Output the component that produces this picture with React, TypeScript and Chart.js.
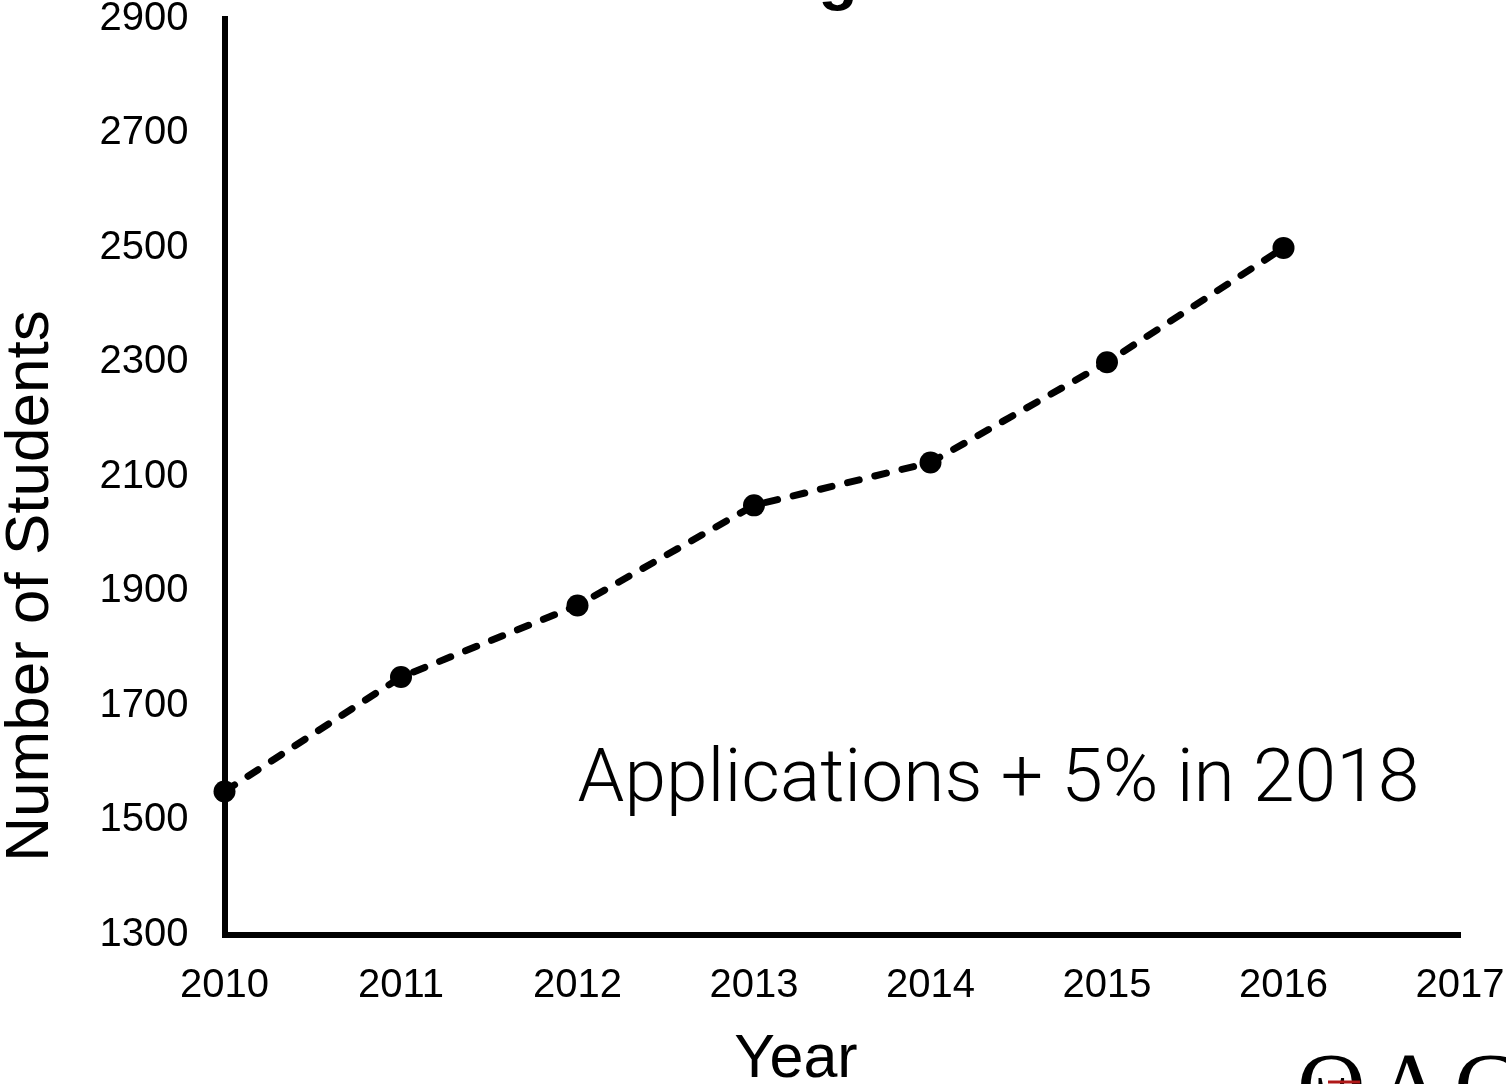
import React, { useEffect, useRef } from "react";
import { Chart, registerables } from "chart.js";

Chart.register(...registerables);

// ---- data ----
const YEARS = [2010, 2011, 2012, 2013, 2014, 2015, 2016];
const STUDENTS = [1550, 1750, 1875, 2050, 2125, 2300, 2500];
const X_MIN = 2010;
const X_MAX = 2017;
const Y_MIN = 1300;
const Y_MAX = 2900;
const Y_STEP = 200;
const TITLE = "The Rising Enrollment";
const X_TITLE = "Year";
const Y_TITLE = "Number of Students";
const NOTE = "Applications + 5% in 2018";
const NOTE_X = 2012;
const NOTE_Y = 1533;
const LOGO = "ΘAC";

// ---- layout ----
const W = 1506;
const H = 1164;
const OY = 80; // canvas shifted up so the title sits above the viewport
const SANS = '"Liberation Sans", Arial, Helvetica, sans-serif';

export default function App() {
  const ref = useRef<HTMLCanvasElement | null>(null);

  useEffect(() => {
    document.body.style.overflow = "hidden";
    const canvas = ref.current;
    if (!canvas) return;

    const textPlugin = {
      id: "extraText",
      afterDraw(chart: any) {
        const ctx = chart.ctx as CanvasRenderingContext2D;
        const xs = chart.scales.x;
        const ys = chart.scales.y;
        ctx.save();
        ctx.fillStyle = "#000";

        // title (mostly cut off at top)
        ctx.font = `bold 64px ${SANS}`;
        ctx.textAlign = "center";
        ctx.textBaseline = "alphabetic";
        ctx.fillText(TITLE, 870, OY - 2);

        // y axis title
        ctx.save();
        ctx.translate(31, OY + 586);
        ctx.rotate(-Math.PI / 2);
        ctx.font = `62px ${SANS}`;
        ctx.textAlign = "center";
        ctx.textBaseline = "middle";
        ctx.fillText(Y_TITLE, 0, 0);
        ctx.restore();

        // x axis title
        ctx.font = `61px ${SANS}`;
        ctx.textAlign = "center";
        ctx.textBaseline = "alphabetic";
        ctx.fillText(X_TITLE, 796, OY + 1077);

        // annotation
        ctx.font = `300 75px Roboto, "Liberation Sans", sans-serif`;
        ctx.textAlign = "left";
        ctx.textBaseline = "alphabetic";
        ctx.fillText(NOTE, xs.getPixelForValue(NOTE_X), ys.getPixelForValue(NOTE_Y));

        // logo (cut off at bottom right)
        ctx.font = `95px "Liberation Serif", "DejaVu Serif", serif`;
        (ctx as any).letterSpacing = "10px";
        ctx.textAlign = "left";
        ctx.fillText(LOGO, 1297, OY + 1119);
        (ctx as any).letterSpacing = "0px";
        ctx.strokeStyle = "#b01818";
        ctx.lineWidth = 3;
        ctx.beginPath();
        ctx.moveTo(1328, OY + 1082);
        ctx.lineTo(1360, OY + 1082);
        ctx.stroke();

        ctx.restore();
      },
    };

    const chart = new Chart(canvas, {
      type: "line",
      data: {
        datasets: [
          {
            data: YEARS.map((x, i) => ({ x, y: STUDENTS[i] })),
            borderColor: "#000",
            backgroundColor: "#000",
            borderWidth: 7,
            borderDash: [12, 16],
            borderCapStyle: "round",
            pointRadius: 11,
            pointBackgroundColor: "#000",
            pointBorderWidth: 0,
            pointHoverRadius: 11,
            tension: 0,
            clip: false,
          } as any,
        ],
      },
      options: {
        responsive: false,
        animation: false,
        events: [],
        layout: { padding: { left: 0, top: OY + 19, right: 46, bottom: 0 } },
        plugins: {
          legend: { display: false },
          tooltip: { enabled: false },
          title: { display: false },
        },
        scales: {
          x: {
            type: "linear",
            min: X_MIN,
            max: X_MAX,
            grid: { display: false, drawTicks: false },
            border: { display: true, color: "#000", width: 6 },
            ticks: {
              stepSize: 1,
              autoSkip: false,
              maxRotation: 0,
              color: "#000",
              padding: 27,
              font: { family: SANS, size: 40 },
              callback: (v: any) => String(v),
            },
            afterFit: (s: any) => {
              s.height = H - (OY + 934.5);
              s.paddingLeft = 0;
              s.paddingRight = 0;
            },
          },
          y: {
            min: Y_MIN,
            max: Y_MAX,
            grid: { display: false, drawTicks: false },
            border: { display: true, color: "#000", width: 6 },
            ticks: {
              stepSize: Y_STEP,
              color: "#000",
              padding: 36,
              font: { family: SANS, size: 40 },
              callback: (v: any) => String(v),
            },
            afterFit: (s: any) => {
              s.width = 224.5;
              s.paddingTop = 0;
              s.paddingBottom = 0;
            },
          },
        },
      } as any,
      plugins: [textPlugin],
    });

    return () => chart.destroy();
  }, []);

  return (
    <div style={{ position: "absolute", left: 0, top: -OY, width: W, height: H }}>
      <canvas ref={ref} width={W} height={H} style={{ display: "block", width: W, height: H }} />
    </div>
  );
}
